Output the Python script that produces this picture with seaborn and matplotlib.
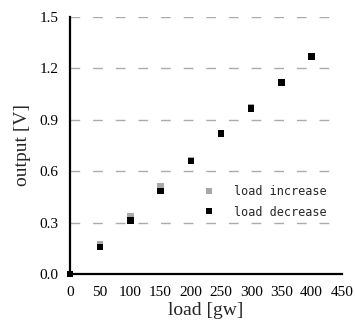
import numpy as np
import pandas as pd
import seaborn as sns
import matplotlib
matplotlib.use("Agg")
import matplotlib.pyplot as plt

# data
load = [0, 50, 100, 150, 200, 250, 300, 350, 400]
out_increase = [0.0, 0.173, 0.336, 0.511, 0.665, 0.822, 0.975, 1.12, 1.272]
out_decrease = [0.0, 0.156, 0.313, 0.483, 0.660, 0.819, 0.965, 1.117, 1.271]
series_names = ["load increase", "load decrease"]

df = pd.concat([
    pd.DataFrame({"load": load, "output": out_increase, "series": series_names[0]}),
    pd.DataFrame({"load": load, "output": out_decrease, "series": series_names[1]}),
])

sns.set_style("white")
plt.rcParams["font.family"] = ["Liberation Serif", "DejaVu Serif"]

fig = plt.figure(figsize=(3.55, 3.34), dpi=100)
ax = fig.add_axes([0.197, 0.180, 0.766, 0.769])

sns.scatterplot(data=df, x="load", y="output", hue="series",
                palette={"load increase": "#a8a8a8", "load decrease": "black"},
                marker="s", s=22, linewidth=0, clip_on=False, zorder=5, ax=ax)

ax.set_xlim(0, 450)
ax.set_ylim(0, 1.5)
ax.set_xticks(np.arange(0, 451, 50))
ax.set_yticks(np.arange(0, 1.51, 0.3))
ax.set_yticklabels(["%.1f" % v for v in np.arange(0, 1.51, 0.3)])

for yv in np.arange(0.3, 1.51, 0.3):
    ax.axhline(yv, color="#ababab", lw=1, dashes=(7, 9.3), zorder=1)

sns.despine(ax=ax)
for sp in ["left", "bottom"]:
    ax.spines[sp].set_linewidth(1.6)
    ax.spines[sp].set_color("black")

ax.tick_params(axis="x", direction="in", length=5, width=1, pad=9, labelsize=11, colors="black")
ax.tick_params(axis="y", length=0, pad=8, labelsize=11, colors="black")

ax.set_xlabel("load [gw]", fontsize=14, labelpad=2)
ax.set_ylabel("output [V]", fontsize=14, labelpad=6)

leg = ax.legend(loc="center left", bbox_to_anchor=(0.43, 0.28), frameon=False,
                handletextpad=1.1, labelspacing=0.6, markerscale=0.9,
                prop={"family": "DejaVu Sans Mono", "size": 8.5})
leg.set_title(None)

fig.savefig("out.png", dpi=100)
